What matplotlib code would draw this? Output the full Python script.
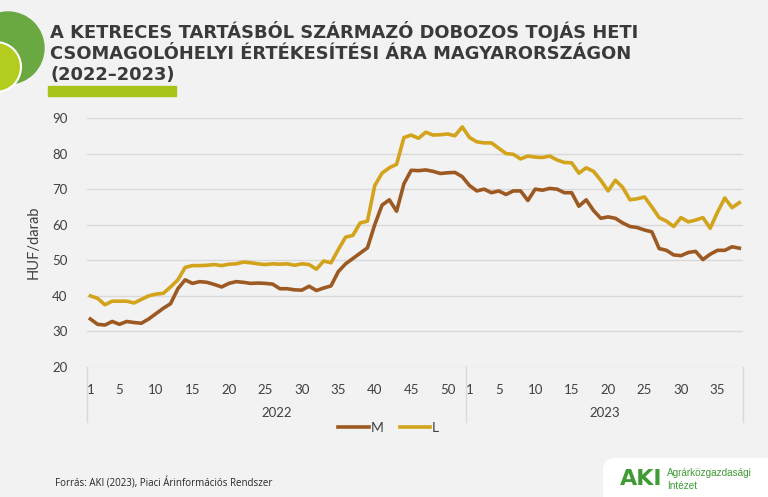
import matplotlib
matplotlib.use('Agg')
import matplotlib.pyplot as plt
from matplotlib.patches import Circle, Rectangle, FancyBboxPatch

# heti árak, HUF/darab
weeks_2022 = list(range(1, 53))
weeks_2023 = list(range(1, 39))

m_2022 = [33.5, 32.0, 31.8, 32.8, 32.0, 32.8, 32.5, 32.3, 33.5, 35.0,
          36.5, 37.8, 42.0, 44.5, 43.5, 44.0, 43.8, 43.2, 42.5, 43.5,
          44.0, 43.8, 43.5, 43.6, 43.5, 43.3, 42.0, 42.0, 41.7, 41.6,
          42.7, 41.5, 42.2, 42.8, 46.8, 49.0, 50.5, 52.0, 53.5, 60.0,
          65.5, 67.0, 63.8, 71.5, 75.3, 75.2, 75.4, 75.0, 74.4, 74.6,
          74.7, 73.5]
m_2023 = [71.0, 69.5, 70.0, 69.0, 69.5, 68.5, 69.5, 69.5, 66.8, 70.0,
          69.7, 70.2, 70.0, 69.0, 69.0, 65.2, 67.0, 64.0, 61.8, 62.2,
          61.8, 60.5, 59.5, 59.2, 58.5, 58.0, 53.3, 52.8, 51.5, 51.3,
          52.2, 52.5, 50.2, 51.7, 52.8, 52.8, 53.8, 53.4]

l_2022 = [40.0, 39.3, 37.5, 38.5, 38.5, 38.5, 38.0, 39.0, 40.0, 40.5,
          40.7, 42.5, 44.5, 48.0, 48.5, 48.5, 48.6, 48.8, 48.5, 48.9,
          49.0, 49.5, 49.3, 49.0, 48.8, 49.0, 48.9, 49.0, 48.6, 49.0,
          48.8, 47.5, 49.8, 49.3, 53.0, 56.5, 57.0, 60.5, 61.0, 71.0,
          74.5, 76.0, 77.0, 84.5, 85.2, 84.3, 86.0, 85.2, 85.3, 85.5,
          85.0, 87.5]
l_2023 = [84.5, 83.3, 83.0, 83.0, 81.5, 80.0, 79.8, 78.5, 79.3, 79.0,
          78.9, 79.3, 78.2, 77.5, 77.4, 74.5, 76.0, 75.0, 72.5, 69.5,
          72.5, 70.5, 67.0, 67.3, 67.8, 65.0, 62.0, 61.0, 59.5, 62.0,
          60.8, 61.3, 62.0, 59.0, 63.5, 67.5, 64.8, 66.2]

shown_2022 = [1, 5, 10, 15, 20, 25, 30, 35, 40, 45, 50]
shown_2023 = [1, 5, 10, 15, 20, 25, 30, 35]

BG = '#f2f2f2'
TXT = '#404040'
C_M = '#9c5a22'
C_L = '#d2a31b'

fig = plt.figure(figsize=(7.68, 4.97), dpi=100, facecolor=BG)

# díszítő körök a bal felső sarokban
deco = fig.add_axes([0, 0, 1, 1], facecolor='none')
deco.set_xlim(0, 768)
deco.set_ylim(497, 0)
deco.axis('off')
deco.add_patch(Circle((8, 48), 36, color='#6aa842', zorder=1))
deco.add_patch(Circle((-4, 67), 25, facecolor='#b3cc1e', edgecolor='white', lw=1.5, zorder=2))
deco.add_patch(Rectangle((48, 86), 128, 10, color='#a8c41a', zorder=1))

title = ('A KETRECES TARTÁSBÓL SZÁRMAZÓ DOBOZOS TOJÁS HETI\n'
         'CSOMAGOLÓHELYI ÉRTÉKESÍTÉSI ÁRA MAGYARORSZÁGON\n'
         '(2022–2023)')
deco.text(50, 21, title, fontsize=12.9, fontweight='bold', color='#3a3a3a',
          va='top', ha='left', linespacing=1.2, family='DejaVu Sans')

deco.text(55, 484, 'Forrás: AKI (2023), Piaci Árinformációs Rendszer',
          fontsize=7, color='#262626', va='center', ha='left', family='Open Sans')

# logó doboz
deco.add_patch(FancyBboxPatch((606, 461), 190, 60, boxstyle='round,pad=0,rounding_size=12',
                              facecolor='#d0d0d0', edgecolor='none', zorder=1))
deco.add_patch(FancyBboxPatch((603, 458), 190, 60, boxstyle='round,pad=0,rounding_size=12',
                              facecolor='white', edgecolor='none', zorder=2))
deco.text(620, 479, 'AKI', fontsize=16, fontweight='bold', color='#3f9c35',
          va='center', ha='left', family='DejaVu Sans', zorder=3)
deco.text(667, 473, 'Agrárközgazdasági', fontsize=7.2, color='#3f9c35',
          va='center', ha='left', family='Liberation Sans', zorder=3)
deco.text(667, 486, 'Intézet', fontsize=7.2, color='#3f9c35',
          va='center', ha='left', family='Liberation Sans', zorder=3)

# fő diagram
ax = fig.add_axes([86.7 / 768, 1 - 367 / 497, (743 - 86.7) / 768, (367 - 118) / 497])
ax.set_facecolor(BG)

n22 = len(weeks_2022)
x = list(range(n22 + len(weeks_2023)))
ax.plot(x, m_2022 + m_2023, color=C_M, lw=2.6, label='M', solid_joinstyle='round')
ax.plot(x, l_2022 + l_2023, color=C_L, lw=2.6, label='L', solid_joinstyle='round')

ax.set_xlim(-0.5, len(x) - 0.5)
ax.set_ylim(20, 90)
ax.set_yticks(range(20, 91, 10))
ax.grid(axis='y', color='#d9d9d9', lw=1)
ax.set_axisbelow(True)
for s in ax.spines.values():
    s.set_visible(False)

tick_pos = [w - 1 for w in shown_2022] + [n22 + w - 1 for w in shown_2023]
tick_lab = [str(w) for w in shown_2022] + [str(w) for w in shown_2023]
ax.set_xticks(tick_pos)
ax.set_xticklabels(tick_lab)
ax.tick_params(axis='x', length=0, pad=12, labelsize=9.5, labelcolor=TXT)
ax.tick_params(axis='y', length=0, pad=14, labelsize=9.5, labelcolor=TXT)
for lab in ax.get_xticklabels() + ax.get_yticklabels():
    lab.set_family('Lato')

ax.set_ylabel('HUF/darab', fontsize=10.5, color=TXT, family='Lato', labelpad=8)

# többszintű kategóriatengely: év feliratok és elválasztók
trans = ax.get_xaxis_transform()
for xs in [-0.5, n22 - 0.5, len(x) - 0.5]:
    ax.plot([xs, xs], [0, -0.22], color='#d9d9d9', lw=1, transform=trans, clip_on=False)
ax.text((n22 - 1) / 2, -0.185, '2022', transform=trans, ha='center', va='center',
        fontsize=9.5, color=TXT, family='Lato')
ax.text(n22 + (len(weeks_2023) - 1) / 2, -0.185, '2023', transform=trans, ha='center',
        va='center', fontsize=9.5, color=TXT, family='Lato')

leg = ax.legend(loc='center', bbox_to_anchor=(0.46, -0.245), ncol=2, frameon=False,
                handlelength=2.2, handletextpad=0.1, columnspacing=1.2,
                prop={'family': 'Lato', 'size': 10})
for t in leg.get_texts():
    t.set_color(TXT)

fig.savefig('out.png', dpi=100, facecolor=BG)
